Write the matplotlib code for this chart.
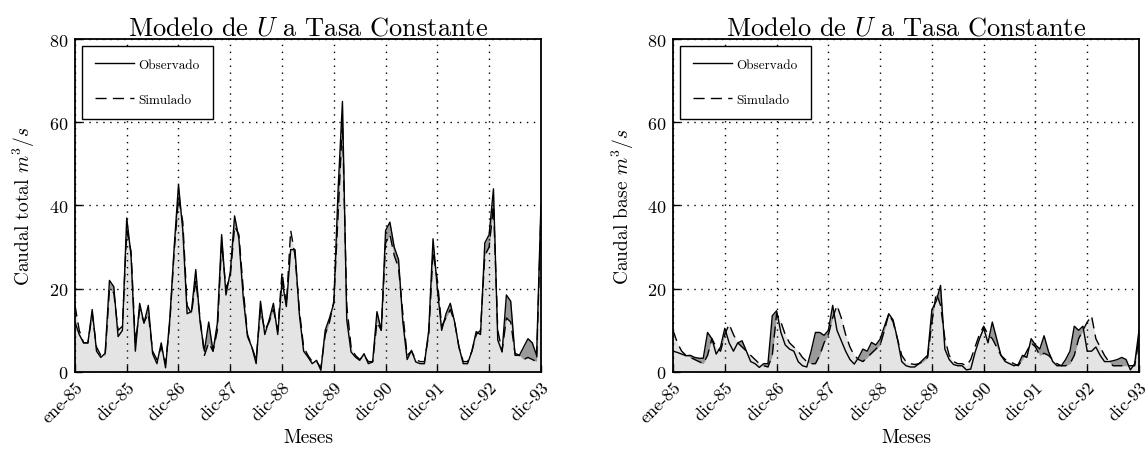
import matplotlib
matplotlib.use("Agg")
import matplotlib.pyplot as plt
import numpy as np

plt.rcParams['font.family'] = ['cmr10', 'DejaVu Serif']
plt.rcParams['mathtext.fontset'] = 'cm'
plt.rcParams['axes.formatter.use_mathtext'] = True
plt.rcParams['axes.unicode_minus'] = False

tick_labels = ['ene-85', 'dic-85', 'dic-86', 'dic-87', 'dic-88', 'dic-89',
               'dic-90', 'dic-91', 'dic-92', 'dic-93']

total_obs = [12, 9, 7, 7, 15, 5, 3.5, 4.5, 22, 20.5, 8.5, 10,
             37, 28, 5, 16.5, 11.7, 16, 4.4, 2, 7, 1, 13, 30,
             45, 34, 14, 14.5, 24.6, 12, 5, 12, 5, 11.7, 33, 18.5,
             24, 37.5, 32, 18, 8.5, 6, 2, 17, 9, 12.5, 16.5, 9,
             22, 15.7, 29.4, 29.4, 14, 5, 3.6, 2, 2.8, 0.4, 10, 13,
             16.5, 44, 65, 12.5, 4.8, 3.6, 2.8, 4.4, 2, 2.4, 14.5, 10,
             34, 36, 30, 27, 12, 3, 5.2, 2.4, 2, 2, 10, 32,
             20, 10, 14, 16.5, 12, 6, 2, 2, 5, 9.7, 9, 31,
             33, 44, 7.7, 4.8, 18.5, 17, 4, 4, 6, 8, 7, 4,
             40]
total_sim = [16, 10, 7, 7, 14, 6, 4, 4, 20, 19, 10, 11,
             34, 29, 7, 15, 12, 14, 5, 3, 6, 2, 12, 29,
             42, 36, 16, 14, 22, 13, 4, 7, 5, 10, 31, 20,
             23, 35, 33, 20, 9, 6, 3, 15, 10, 12, 15, 10,
             24, 16, 34, 28, 15, 6, 4, 2.5, 2.5, 1, 9, 12,
             17, 38, 60, 16, 6, 4, 3, 4, 2.5, 2.5, 12, 10,
             31, 33, 28, 25, 14, 4, 5, 3, 2.5, 2.5, 9, 29,
             22, 11, 13, 15, 12, 6, 2.5, 2.5, 5, 9, 10, 28,
             30, 40, 10, 5, 13, 12, 4.5, 4, 3, 3.5, 3, 2.5,
             38]

base_obs = [5, 4.7, 4.3, 3.9, 4, 3.5, 3.3, 3.3, 9.5, 8, 4.3, 6,
            10.5, 7, 5, 7, 7.5, 5, 2.5, 2, 1.1, 2, 2, 13.5,
            14.7, 9.5, 6.5, 5.5, 5, 2.5, 1.5, 1.2, 5, 9.5, 9.5, 8.8,
            10, 16, 10, 7.5, 5, 3, 1.9, 3.5, 5.5, 5, 7.1, 6.5,
            7.9, 11, 14, 12.5, 8, 2.5, 1.5, 1.2, 1.2, 2, 3, 4,
            15, 17, 20.8, 5.5, 3, 1.8, 1.5, 1.5, 0.5, 0.7, 4.7, 7.9,
            10.5, 7, 12, 8, 4, 2.5, 2, 1.5, 1.8, 4, 3.5, 8,
            6.5, 5.5, 8.7, 5, 2.5, 1.5, 1.5, 3, 5, 11, 10, 11,
            5, 5, 6, 4, 2.5, 2.5, 2.7, 3, 3.5, 3, 0.5, 2,
            10]
base_sim = [10, 7, 5, 4, 3.5, 3, 2.5, 2, 4, 8, 6, 5,
            9, 11.5, 9, 7, 6, 5, 4, 3, 2, 1.5, 1.2, 4,
            14, 12, 9, 7, 6, 5, 3.5, 2.5, 2, 2, 4, 7,
            9, 13, 16, 13, 9, 6, 4, 3, 2.5, 3.5, 4.5, 5.5,
            6.5, 10, 14, 12, 8, 4, 2.5, 2, 1.8, 2, 2.5, 3.5,
            12, 19, 16, 8, 4, 2.5, 2, 2, 1.5, 3, 6, 9,
            11, 9, 8, 6, 4, 3, 2.5, 2, 1.5, 3, 5, 7,
            6, 4, 4.5, 4, 3, 2, 1.5, 1.5, 2, 4, 8, 10,
            12, 13.5, 8, 6, 4, 2.5, 1.5, 1.5, 1.5, 1.5, 1.5, 1.5,
            8]

fig = plt.figure(figsize=(11.46, 4.52), dpi=100)
ax1 = fig.add_axes([0.0654, 0.1748, 0.4066, 0.7367])
ax2 = fig.add_axes([0.5873, 0.1748, 0.4066, 0.7367])

def draw(ax, obs, sim, ylabel):
    x = np.arange(len(obs))
    ax.fill_between(x, 0, obs, color='#9a9a9a', linewidth=0)
    ax.fill_between(x, 0, sim, color='#e4e4e4', linewidth=0)
    ax.plot(x, obs, color='black', lw=1.0, label='Observado')
    ax.plot(x, sim, color='black', lw=1.0, ls=(0, (8, 4.5)), label='Simulado')
    ax.set_xlim(0, len(obs) - 1)
    ax.set_ylim(0, 80)
    ax.set_yticks([0, 20, 40, 60, 80])
    ax.set_xticks(np.arange(0, 12 * len(tick_labels), 12))
    ax.set_xticklabels(tick_labels, rotation=45, ha='right', rotation_mode='anchor', fontsize=13)
    ax.tick_params(axis='both', direction='in', length=5, width=1, labelsize=13)
    ax.tick_params(axis='x', pad=5)
    ax.tick_params(axis='y', pad=5)
    ax.grid(True, color='black', ls=(0, (1, 4)), lw=1.0)
    for s in ax.spines.values():
        s.set_linewidth(1.3)
    ax.set_title('Modelo de $U$ a Tasa Constante', fontsize=19, pad=3)
    ax.set_ylabel(ylabel, fontsize=14, labelpad=8)
    ax.set_xlabel('Meses', fontsize=14, labelpad=2)
    leg = ax.legend(loc='upper left', fontsize=9.5, fancybox=False, edgecolor='black',
                    framealpha=1, handlelength=3.0, labelspacing=1.7,
                    borderpad=1.0, handletextpad=0.3, borderaxespad=0.5)
    leg.get_frame().set_linewidth(1.0)

draw(ax1, total_obs, total_sim, 'Caudal total $m^3/s$')
draw(ax2, base_obs, base_sim, 'Caudal base $m^3/s$')

fig.savefig('out.png', dpi=100)
